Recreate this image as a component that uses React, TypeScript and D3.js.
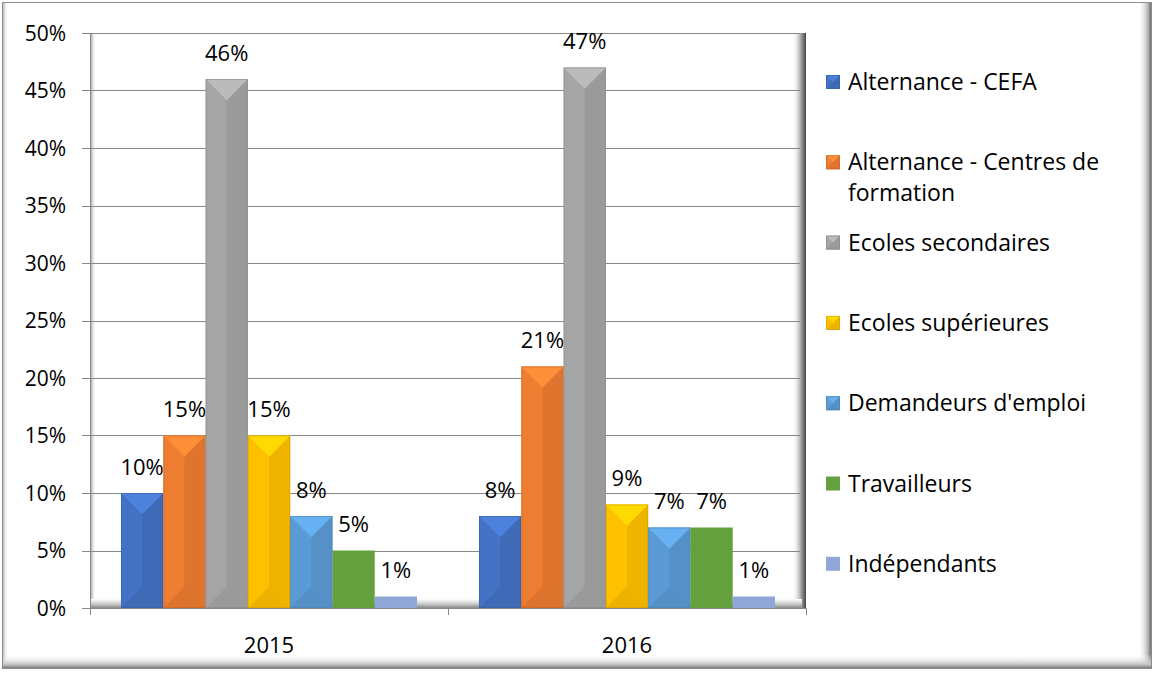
import * as React from 'react';
import * as d3 from 'd3';

const years = ['2015', '2016'];
const seriesNames = [
	'Alternance - CEFA',
	'Alternance - Centres de formation',
	'Ecoles secondaires',
	'Ecoles supérieures',
	"Demandeurs d'emploi",
	'Travailleurs',
	'Indépendants',
];
const values2015 = [10, 15, 46, 15, 8, 5, 1];
const values2016 = [8, 21, 47, 9, 7, 7, 1];
const yTicks = [0, 5, 10, 15, 20, 25, 30, 35, 40, 45, 50];
const legendLines = [
	['Alternance - CEFA'],
	['Alternance - Centres de', 'formation'],
	['Ecoles secondaires'],
	['Ecoles supérieures'],
	["Demandeurs d'emploi"],
	['Travailleurs'],
	['Indépendants'],
];

const colors = ['#4472c4', '#ed7d31', '#a5a5a5', '#ffc000', '#5b9bd5', '#65a03f', '#8fa7d6'];
const beveled = [true, true, true, true, true, false, false];

const W = 1155;
const H = 673;
const FONT = '"Open Sans", Lato, sans-serif';

const Bar = ({x, y, w, h, color, bevel}) => {
	if (!bevel || h < 4) {
		return <rect x={x} y={y} width={w} height={h} fill={color} />;
	}
	const c = d3.color(color);
	const light = c.brighter(0.35).toString();
	const dark = c.darker(0.35).toString();
	const darker = c.darker(0.6).toString();
	const cx = x + w / 2;
	const d = Math.min(w / 2, h / 2);
	return (
		<g>
			<rect x={x} y={y} width={w} height={h} fill={color} />
			<polygon points={`${cx},${y + d} ${x + w},${y} ${x + w},${y + h} ${cx},${y + h - d}`} fill={dark} opacity={0.55} />
			<polygon points={`${x},${y} ${x + w},${y} ${cx},${y + d}`} fill={light} />
			<polygon points={`${x},${y + h} ${x + w},${y + h} ${cx},${y + h - d}`} fill={dark} opacity={0.6} />
			<rect x={x + 0.5} y={y + 0.5} width={w - 1} height={h - 1} fill="none" stroke={darker} strokeOpacity={0.5} />
		</g>
	);
};

export default function App() {
	const left = 90;
	const right = 806;
	const top = 33;
	const bottom = 608;

	const y = d3.scaleLinear().domain([0, 50]).range([bottom, top]);
	const x = d3.scaleBand().domain(years).range([left, right]).paddingInner(0).paddingOuter(0);
	const inner = d3.scaleBand().domain(seriesNames).range([31, x.bandwidth() - 31]).padding(0);

	const data = [values2015, values2016];

	return (
		<svg width={W} height={H} style={{display: 'block', position: 'absolute', left: 0, top: 0}}>
			<defs>
				<linearGradient id="shR" x1="0" x2="1" y1="0" y2="0">
					<stop offset="0" stopColor="#ffffff" stopOpacity={0} />
					<stop offset="0.7" stopColor="#b8b8b8" />
					<stop offset="1" stopColor="#5a5a5a" />
				</linearGradient>
				<linearGradient id="shB" x1="0" x2="0" y1="0" y2="1">
					<stop offset="0" stopColor="#ffffff" stopOpacity={0} />
					<stop offset="0.7" stopColor="#c4c4c4" />
					<stop offset="1" stopColor="#6a6a6a" />
				</linearGradient>
				<linearGradient id="shL" x1="0" x2="1" y1="0" y2="0">
					<stop offset="0" stopColor="#9a9a9a" />
					<stop offset="1" stopColor="#ffffff" stopOpacity={0} />
				</linearGradient>
				<linearGradient id="wallR" x1="0" x2="1" y1="0" y2="0">
					<stop offset="0" stopColor="#ffffff" stopOpacity={0} />
					<stop offset="0.5" stopColor="#c8c8c8" />
					<stop offset="1" stopColor="#444444" />
				</linearGradient>
				<linearGradient id="wallL" x1="0" x2="1" y1="0" y2="0">
					<stop offset="0" stopColor="#8a8a8a" />
					<stop offset="1" stopColor="#ffffff" stopOpacity={0} />
				</linearGradient>
				<linearGradient id="floor" x1="0" x2="0" y1="0" y2="1">
					<stop offset="0" stopColor="#ffffff" />
					<stop offset="0.5" stopColor="#d0d0d0" />
					<stop offset="1" stopColor="#8a8a8a" />
				</linearGradient>
			</defs>

			{/* outer frame */}
			<rect x={2} y={2} width={1150} height={667} fill="#ffffff" />
			<rect x={2} y={2} width={6} height={667} fill="url(#shL)" />
			<rect x={1138} y={2} width={14} height={667} fill="url(#shR)" />
			<rect x={2} y={654} width={1150} height={15} fill="url(#shB)" />
			<rect x={2.5} y={2.5} width={1149} height={666} fill="none" stroke="#8c8c8c" strokeWidth={1} />

			{/* back wall */}
			<rect x={left} y={top} width={right - left} height={bottom - top} fill="#ffffff" />
			<rect x={left} y={top} width={6} height={bottom - top} fill="url(#wallL)" />
			<rect x={right - 14} y={top} width={14} height={bottom - top} fill="url(#wallR)" />
			<line x1={left} x2={right - 4} y1={top + 0.5} y2={top + 0.5} stroke="#999" />

			{/* gridlines */}
			{yTicks.map(t => (
				<line key={t} x1={left} x2={right - 6} y1={Math.round(y(t)) + 0.5} y2={Math.round(y(t)) + 0.5} stroke="#888888" strokeWidth={1} />
			))}

			{/* floor */}
			<rect x={left} y={bottom - 9} width={right - left - 4} height={9} fill="url(#floor)" />

			{/* axes */}
			<line x1={left + 0.5} x2={left + 0.5} y1={top} y2={bottom + 4} stroke="#888" />
			{yTicks.map(t => (
				<line key={'tk' + t} x1={left - 8} x2={left} y1={Math.round(y(t)) + 0.5} y2={Math.round(y(t)) + 0.5} stroke="#888" />
			))}
			<line x1={left} x2={right} y1={bottom + 0.5} y2={bottom + 0.5} stroke="#888" />
			{[left, left + x.bandwidth(), right].map((v, i) => (
				<line key={'xt' + i} x1={Math.round(v) + 0.5} x2={Math.round(v) + 0.5} y1={bottom} y2={bottom + 7} stroke="#888" />
			))}

			{/* y labels */}
			{yTicks.map(t => (
				<text key={'yl' + t} x={66} y={y(t) + 7.5} textAnchor="end" fontFamily={FONT} fontSize={21} fill="#000">{t + '%'}</text>
			))}

			{/* x labels */}
			{years.map(yr => (
				<text key={yr} x={x(yr) + x.bandwidth() / 2} y={653} textAnchor="middle" fontFamily={FONT} fontSize={22} fill="#000">{yr}</text>
			))}

			{/* bars */}
			{years.map((yr, gi) => (
				<g key={'g' + yr}>
					{seriesNames.map((s, si) => {
						const v = data[gi][si];
						const bx = x(yr) + inner(s);
						const by = y(v);
						return (
							<g key={s}>
								<Bar x={bx} y={by} w={inner.bandwidth()} h={bottom - by} color={colors[si]} bevel={beveled[si]} />
								<text x={bx + inner.bandwidth() / 2} y={by - 18.5} textAnchor="middle" fontFamily={FONT} fontSize={22} fill="#000">{v + '%'}</text>
							</g>
						);
					})}
				</g>
			))}

			{/* legend */}
			{legendLines.map((lines, i) => {
				const cy = 82 + i * 80.3;
				return (
					<g key={'lg' + i}>
						<Bar x={826} y={cy - 7} w={14} h={14} color={colors[i]} bevel={beveled[i]} />
						{lines.map((ln, j) => (
							<text key={j} x={848} y={cy + 8 + j * 31} fontFamily={FONT} fontSize={23} fill="#000">{ln}</text>
						))}
					</g>
				);
			})}
		</svg>
	);
}
